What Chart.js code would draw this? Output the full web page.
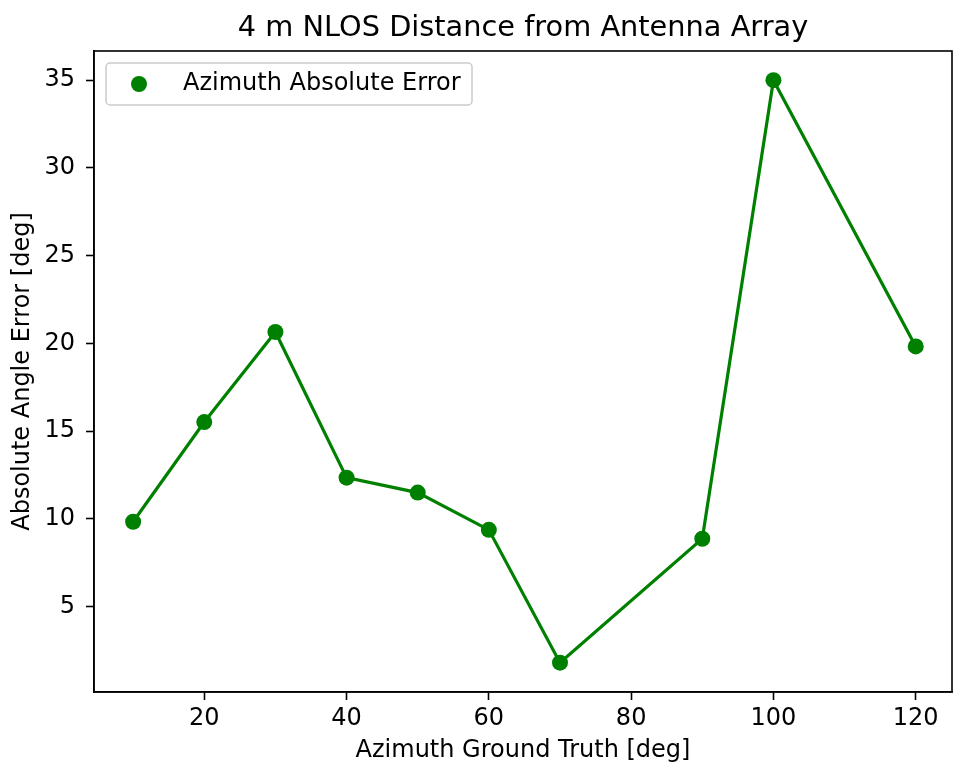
<!DOCTYPE html>
<html>
<head>
<meta charset="utf-8">
<script src="https://cdn.jsdelivr.net/npm/chart.js@4"></script>
<style>
  html, body { margin: 0; background: #fff; overflow: hidden; }
  #wrap { width: 954px; height: 771px; position: relative; }
  #myChart { display: block; }
</style>
</head>
<body>
<div id="wrap"><canvas id="myChart"></canvas></div>
<script>
// data
const azimuthTruth = [10, 20, 30, 40, 50, 60, 70, 90, 100, 120];
const absError = [9.84, 15.52, 20.65, 12.35, 11.5, 9.38, 1.81, 8.87, 35.0, 19.83];
const xTicks = [20, 40, 60, 80, 100, 120];
const yTicks = [5, 10, 15, 20, 25, 30, 35];

const titleText = '4 m NLOS Distance from Antenna Array';
const legendText = 'Azimuth Absolute Error';
const green = '#008000';
const fontFam = '"DejaVu Sans", sans-serif';

// title, top/right spines and the legend box
const extras = {
  id: 'extras',
  afterDraw(chart) {
    const ctx = chart.ctx;
    const a = chart.chartArea;
    ctx.save();
    ctx.strokeStyle = '#000';
    ctx.lineWidth = 1.6;
    ctx.strokeRect(a.left, a.top, a.right - a.left, a.bottom - a.top);

    ctx.fillStyle = '#000';
    ctx.font = '28.8px ' + fontFam;
    ctx.textAlign = 'center';
    ctx.textBaseline = 'alphabetic';
    ctx.fillText(titleText, (a.left + a.right) / 2, 36);

    // legend
    const lx = a.left + 12, ly = a.top + 12, lw = 366, lh = 42;
    ctx.beginPath();
    ctx.roundRect(lx, ly, lw, lh, 4);
    ctx.fillStyle = 'rgba(255,255,255,0.8)';
    ctx.fill();
    ctx.strokeStyle = '#cccccc';
    ctx.lineWidth = 1.5;
    ctx.stroke();
    ctx.beginPath();
    ctx.arc(lx + 33, ly + 21, 8, 0, Math.PI * 2);
    ctx.fillStyle = green;
    ctx.fill();
    ctx.fillStyle = '#000';
    ctx.font = '24px ' + fontFam;
    ctx.textAlign = 'left';
    ctx.textBaseline = 'middle';
    ctx.fillText(legendText, lx + 77, ly + 21);
    ctx.restore();
  }
};

const chartElement = document.getElementById('myChart');
const myChart = new Chart(chartElement, {
  type: 'scatter',
  data: {
    datasets: [{
      label: legendText,
      data: azimuthTruth.map((x, i) => ({ x: x, y: absError[i] })),
      showLine: true,
      borderColor: green,
      backgroundColor: green,
      borderWidth: 3.2,
      pointRadius: 8,
      pointHoverRadius: 8,
      pointBorderWidth: 0,
      pointBackgroundColor: green
    }]
  },
  options: {
    responsive: true,
    maintainAspectRatio: false,
    animation: false,
    layout: { autoPadding: false, padding: { top: 51, right: 2, left: 0, bottom: 0 } },
    scales: {
      x: {
        type: 'linear',
        min: 4.5,
        max: 125.1,
        afterBuildTicks: s => { s.ticks = xTicks.map(v => ({ value: v })); },
        afterFit: s => { s.height = 79; s.paddingLeft = 0; s.paddingRight = 0; },
        grid: { display: true, drawOnChartArea: false, tickLength: 8, tickWidth: 1.6, tickColor: '#000' },
        border: { display: true, color: '#000', width: 1.6 },
        ticks: { color: '#000', font: { family: fontFam, size: 24 }, padding: 4, maxRotation: 0 },
        title: {
          display: true,
          text: 'Azimuth Ground Truth [deg]',
          color: '#000',
          font: { family: fontFam, size: 24 },
          padding: { top: 0, bottom: 6 }
        }
      },
      y: {
        min: 0.14,
        max: 36.66,
        afterBuildTicks: s => { s.ticks = yTicks.map(v => ({ value: v })); },
        afterFit: s => { s.width = 94; s.paddingTop = 0; s.paddingBottom = 0; },
        grid: { display: true, drawOnChartArea: false, tickLength: 8, tickWidth: 1.6, tickColor: '#000' },
        border: { display: true, color: '#000', width: 1.6 },
        ticks: { color: '#000', font: { family: fontFam, size: 24 }, padding: 11 },
        title: {
          display: true,
          text: 'Absolute Angle Error [deg]',
          color: '#000',
          font: { family: fontFam, size: 24 },
          padding: { top: 8, bottom: 0 }
        }
      }
    },
    plugins: {
      legend: { display: false },
      title: { display: false },
      tooltip: { enabled: false }
    }
  },
  plugins: [extras]
});
</script>
</body>
</html>
